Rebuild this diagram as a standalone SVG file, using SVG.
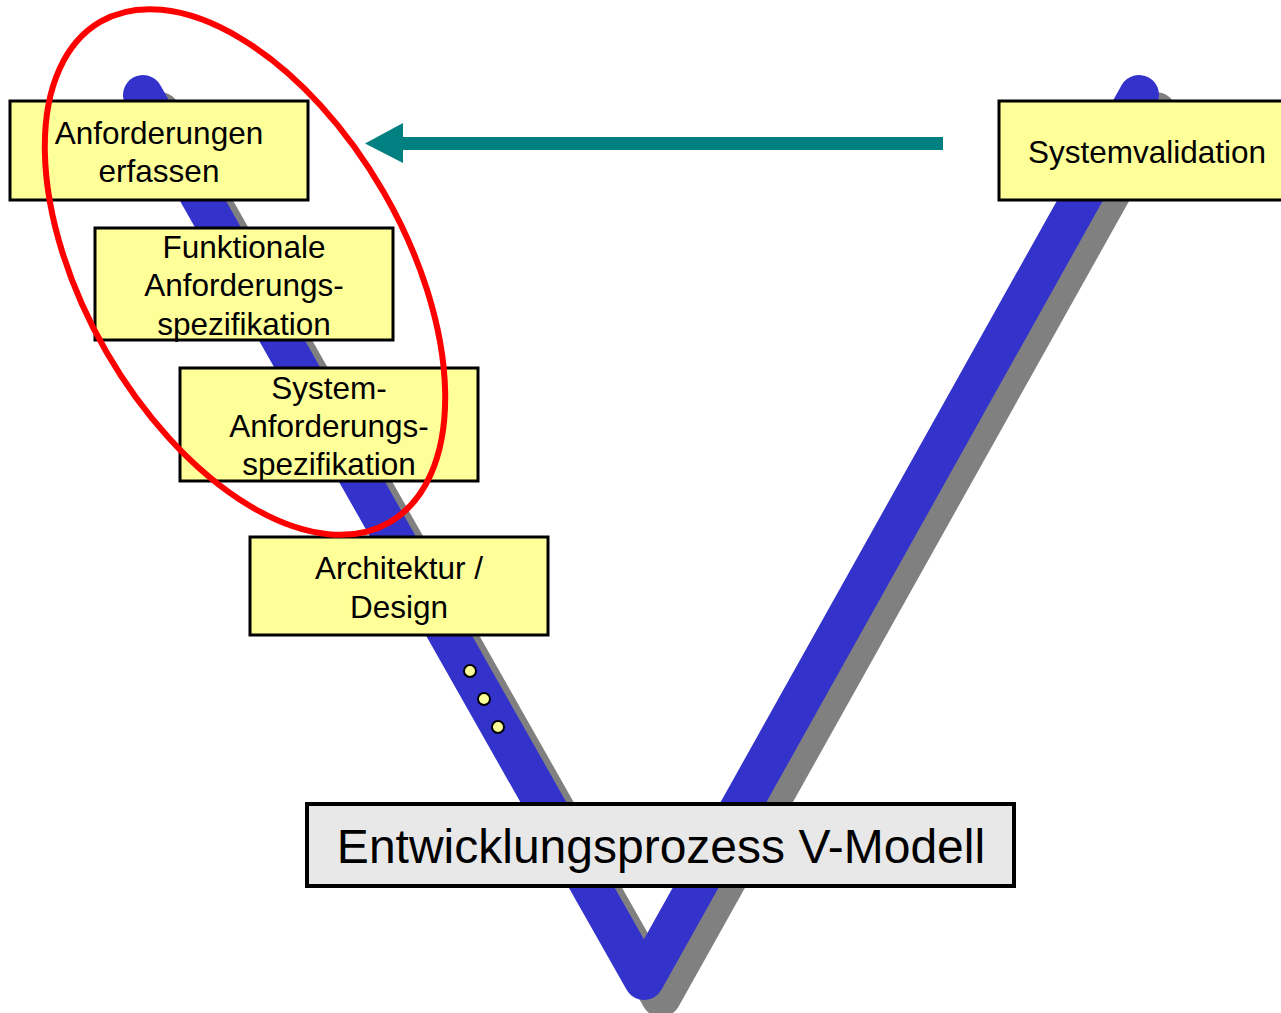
<svg xmlns="http://www.w3.org/2000/svg" width="1281" height="1013" viewBox="0 0 1281 1013">
<style>
.box{fill:#FFFF99;stroke:#000;stroke-width:3}
.t{font-family:"Liberation Sans",Arial,sans-serif;font-size:31.5px;fill:#000;text-anchor:middle}
.dot{fill:#FFFF99;stroke:#000;stroke-width:2}
</style>
<rect width="1281" height="1013" fill="#fff"/>
<g id="connectors">
<polyline id="v-shadow" points="160,112 661,997 1156,112" fill="none" stroke="#808080" stroke-width="40" stroke-linecap="round" stroke-linejoin="round"/>
<polyline id="v-line" points="143,95 644,980 1139,95" fill="none" stroke="#3333CC" stroke-width="40" stroke-linecap="round" stroke-linejoin="round"/>
<polygon id="arrow" points="943,137 403,137 403,123 365,143.5 403,163 403,150 943,150" fill="#008080"/>
</g>
<g id="dots">
<circle class="dot" cx="470" cy="671" r="6"/>
<circle class="dot" cx="484" cy="699" r="6"/>
<circle class="dot" cx="498" cy="727" r="6"/>
</g>
<g id="n1">
<rect class="box" x="10" y="101" width="298" height="99"/>
<text class="t" x="159" y="144">Anforderungen</text>
<text class="t" x="159" y="182">erfassen</text>
</g>
<g id="n2">
<rect class="box" x="95" y="228" width="298" height="112"/>
<text class="t" x="244" y="258">Funktionale</text>
<text class="t" x="244" y="296">Anforderungs-</text>
<text class="t" x="244" y="335">spezifikation</text>
</g>
<g id="n3">
<rect class="box" x="180" y="368" width="298" height="113"/>
<text class="t" x="329" y="399">System-</text>
<text class="t" x="329" y="437">Anforderungs-</text>
<text class="t" x="329" y="475">spezifikation</text>
</g>
<g id="n4">
<rect class="box" x="250" y="537" width="298" height="98"/>
<text class="t" x="399" y="579">Architektur /</text>
<text class="t" x="399" y="618">Design</text>
</g>
<g id="n5">
<rect class="box" x="999" y="101" width="298" height="99"/>
<text class="t" x="1147" y="163">Systemvalidation</text>
</g>
<g id="title">
<rect x="307" y="804" width="707" height="82" fill="#E8E8E8" stroke="#000" stroke-width="4"/>
<text x="661" y="863" font-family="Liberation Sans,Arial,sans-serif" font-size="48" text-anchor="middle" fill="#000">Entwicklungsprozess V-Modell</text>
</g>
<g id="focus">
<ellipse cx="245" cy="272" rx="289" ry="160" transform="rotate(60 245 272)" fill="none" stroke="#FF0000" stroke-width="6"/>
</g>
</svg>
